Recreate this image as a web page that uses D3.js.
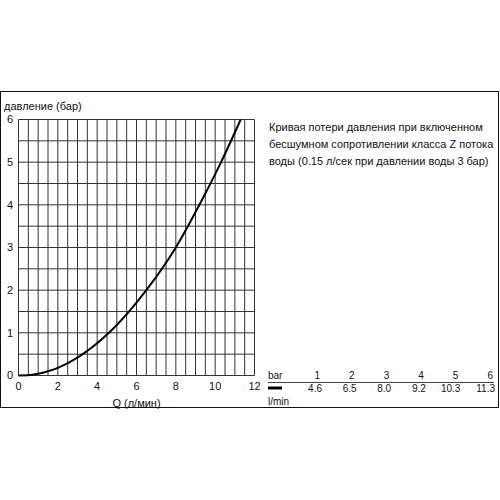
<!DOCTYPE html>
<html><head><meta charset="utf-8">
<script src="https://cdn.jsdelivr.net/npm/d3@7"></script>
<style>body{margin:0;background:#fff}svg{display:block}text{font-family:"Liberation Sans",Arial,sans-serif;fill:#111}</style>
</head><body>
<script>
const flowQ = [0, 0.5, 1, 1.5, 2, 3, 4.6, 6.5, 8.0, 9.2, 10.3, 11.3];
const pressure = [0, 0.005, 0.04, 0.1, 0.18, 0.42, 1, 2, 3, 4, 5, 6];
const xTicks = [0, 2, 4, 6, 8, 10, 12];
const yTicks = [0, 1, 2, 3, 4, 5, 6];
const tableBar = ["1", "2", "3", "4", "5", "6"];
const tableFlow = ["4.6", "6.5", "8.0", "9.2", "10.3", "11.3"];
const descLines = ["Кривая потери давления при включенном", "бесшумном сопротивлении класса Z потока", "воды (0.15 л/сек при давлении воды 3 бар)"];

const W = 500, H = 500;
const svg = d3.select("body").append("svg").attr("width", W).attr("height", H);
svg.append("rect").attr("x", 0.5).attr("y", 91.5).attr("width", 498).attr("height", 316).attr("fill", "none").attr("stroke", "#111").attr("stroke-width", 1);

const x = d3.scaleLinear().domain([0, 12]).range([18.5, 254.5]);
const y = d3.scaleLinear().domain([0, 6]).range([375.5, 119.5]);

const g = svg.append("g");
g.selectAll("line.v").data(d3.range(0, 12.01, 0.5)).join("line")
  .attr("x1", d => x(d)).attr("x2", d => x(d)).attr("y1", y(0)).attr("y2", y(6))
  .attr("stroke", "#333").attr("stroke-width", 1);
g.selectAll("line.h").data(d3.range(0, 6.01, 0.5)).join("line")
  .attr("y1", d => y(d)).attr("y2", d => y(d)).attr("x1", x(0)).attr("x2", x(12))
  .attr("stroke", "#333").attr("stroke-width", 1);

const line = d3.line().x((d, i) => x(flowQ[i])).y(d => y(d)).curve(d3.curveMonotoneX);
g.append("path").datum(pressure).attr("d", line).attr("fill", "none").attr("stroke", "#000").attr("stroke-width", 2);

svg.selectAll("text.yt").data(yTicks).join("text")
  .attr("x", 13).attr("y", d => y(d)).attr("dy", "0.36em").attr("text-anchor", "end")
  .attr("font-size", 11).text(d => d);
svg.selectAll("text.xt").data(xTicks).join("text")
  .attr("x", d => x(d)).attr("y", 390).attr("text-anchor", "middle")
  .attr("font-size", 11).text(d => d);
svg.append("text").attr("x", x(6)).attr("y", 407).attr("text-anchor", "middle").attr("font-size", 11).text("Q (л/мин)");
svg.append("text").attr("x", 4).attr("y", 110).attr("font-size", 11).text("давление (бар)");

svg.selectAll("text.desc").data(descLines).join("text")
  .attr("x", 269).attr("y", (d, i) => 131 + i * 16.8).attr("font-size", 11).text(d => d);

const tx = d3.scalePoint().domain(tableBar).range([320, 493]);
svg.append("text").attr("x", 268).attr("y", 379).attr("font-size", 10).text("bar");
svg.selectAll("text.tb").data(tableBar).join("text")
  .attr("x", d => tx(d)).attr("y", 379).attr("text-anchor", "end").attr("font-size", 10).text(d => d);
svg.append("line").attr("x1", 268).attr("x2", 494).attr("y1", 382.5).attr("y2", 382.5).attr("stroke", "#444").attr("stroke-width", 1);
svg.append("line").attr("x1", 268).attr("x2", 282).attr("y1", 388).attr("y2", 388).attr("stroke", "#000").attr("stroke-width", 3);
svg.selectAll("text.tf").data(tableFlow).join("text")
  .attr("x", (d, i) => tx(tableBar[i]) + 2).attr("y", 392).attr("text-anchor", "end").attr("font-size", 10).text(d => d);
svg.append("text").attr("x", 268).attr("y", 405).attr("font-size", 10).text("l/min");
</script>
</body></html>
